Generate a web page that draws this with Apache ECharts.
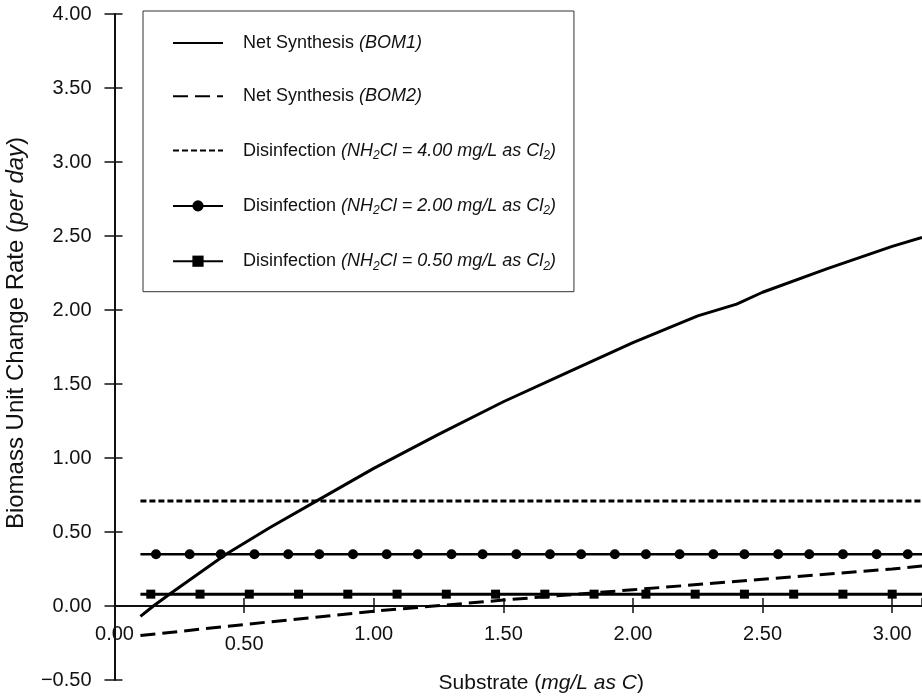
<!DOCTYPE html>
<html><head><meta charset="utf-8">
<script src="https://cdn.jsdelivr.net/npm/echarts@6/dist/echarts.min.js"></script>
<style>html,body{margin:0;padding:0;background:#fff}#c{width:922px;height:697px}</style>
</head><body><div id="c"></div>
<script>
// ---- data ----
const xTickValues = [0, 0.5, 1, 1.5, 2, 2.5, 3];
const yTickValues = [-0.5, 0, 0.5, 1, 1.5, 2, 2.5, 3, 3.5, 4];

const bom1X = [0.10, 0.15, 0.22, 0.43, 0.60, 0.78, 1.00, 1.25, 1.50, 1.75, 2.00, 2.25, 2.40, 2.50, 2.75, 3.00, 3.115];
const bom1Y = [-0.07, 0.00, 0.09, 0.35, 0.53, 0.71, 0.93, 1.16, 1.38, 1.58, 1.78, 1.96, 2.04, 2.12, 2.28, 2.43, 2.49];

const bom2X = [0.10, 0.50, 1.00, 1.50, 2.00, 2.50, 3.00, 3.115];
const bom2Y = [-0.20, -0.125, -0.035, 0.04, 0.11, 0.18, 0.25, 0.27];

const dis400Y = 0.71;
const dis200Y = 0.35;
const dis050Y = 0.08;
const disLineStartX = 0.10;
const disLineEndX = 3.115;
const dis200MarkerX = [0.16, 0.29, 0.41, 0.54, 0.67, 0.79, 0.92, 1.05, 1.17, 1.30, 1.42, 1.55, 1.68, 1.80, 1.93, 2.05, 2.18, 2.31, 2.43, 2.56, 2.68, 2.81, 2.94, 3.06];
const dis050MarkerX = [0.14, 0.33, 0.52, 0.71, 0.90, 1.09, 1.28, 1.47, 1.66, 1.85, 2.05, 2.24, 2.43, 2.62, 2.81, 3.00];

const seriesNames = [
  'Net Synthesis (BOM1)',
  'Net Synthesis (BOM2)',
  'Disinfection (NH2Cl = 4.00 mg/L as Cl2)',
  'Disinfection (NH2Cl = 2.00 mg/L as Cl2)',
  'Disinfection (NH2Cl = 0.50 mg/L as Cl2)'
];
const legendRich = [
  'Net Synthesis {i|(BOM1)}',
  'Net Synthesis {i|(BOM2)}',
  'Disinfection {i|(NH}{s|2}{i|Cl = 4.00 mg/L as Cl}{s|2}{i|)}',
  'Disinfection {i|(NH}{s|2}{i|Cl = 2.00 mg/L as Cl}{s|2}{i|)}',
  'Disinfection {i|(NH}{s|2}{i|Cl = 0.50 mg/L as Cl}{s|2}{i|)}'
];

// ---- chart ----
const FONT = "'Liberation Sans', Arial, Helvetica, sans-serif";
const INK = '#111';
const zip = (xs, ys) => xs.map((x, i) => [x, ys[i]]);
const hLine = (y, markers) => [[disLineStartX, y]].concat((markers || []).map(x => [x, y])).concat([[disLineEndX, y]]);

const chart = echarts.init(document.getElementById('c'), null, {renderer: 'canvas'});

const fmtTick = v => (v < 0 ? '\u2212' + Math.abs(v).toFixed(2) : v.toFixed(2));

const X_MIN = 0, X_MAX = 3.115, Y_MIN = -0.5, Y_MAX = 4;
const G_LEFT = 114.5, G_TOP = 14, G_BOTTOM = 17, H = 697;
// bottom of the helper grid sits on the y = 0 line of the main grid
const zeroY = G_TOP + (H - G_TOP - G_BOTTOM) * (Y_MAX - 0) / (Y_MAX - Y_MIN);

function endAwareSize(size, count) {
  return function (v, p) { return (p.dataIndex === 0 || p.dataIndex === count - 1) ? 0 : size; };
}

const d200 = hLine(dis200Y, dis200MarkerX);
const d050 = hLine(dis050Y, dis050MarkerX);
const noSym = {opacity: 0};
const hidden = {axisLine: {show: false}, axisTick: {show: false}, axisLabel: {show: false}, splitLine: {show: false}};

chart.setOption({
  animation: false,
  backgroundColor: '#fff',
  textStyle: {fontFamily: FONT},
  grid: [
    {left: G_LEFT, right: 0, top: G_TOP, bottom: G_BOTTOM, containLabel: false, outerBoundsMode: 'none'},
    {left: G_LEFT, right: 0, top: G_TOP, bottom: H - zeroY, containLabel: false, outerBoundsMode: 'none'}
  ],
  xAxis: [
    Object.assign({type: 'value', gridIndex: 0, min: X_MIN, max: X_MAX, interval: 0.5, show: true}, hidden),
    {
      type: 'value', gridIndex: 1, min: X_MIN, max: X_MAX, interval: 0.5, position: 'bottom',
      splitLine: {show: false},
      axisLine: {show: true, onZero: false, lineStyle: {color: INK, width: 2}},
      axisTick: {show: true, inside: false, length: 7, lineStyle: {color: INK, width: 1.5}},
      axisLabel: {
        show: true, margin: 18, fontSize: 20, color: INK, fontFamily: FONT,
        showMaxLabel: false,
        formatter: v => (Math.abs(v - 0.5) < 1e-9 ? '{low|' + fmtTick(v) + '}' : fmtTick(v)),
        rich: {low: {fontSize: 20, color: INK, fontFamily: FONT, padding: [10, 0, 0, 0]}}
      },
      name: 'Substrate ({i|mg/L as C})',
      nameLocation: 'middle',
      nameGap: 67,
      nameTextStyle: {
        fontSize: 21, color: INK, fontFamily: FONT, padding: [0, 0, 0, 46],
        rich: {i: {fontStyle: 'italic', fontSize: 21, color: INK, fontFamily: FONT}}
      }
    },
    {
      type: 'value', gridIndex: 1, min: X_MIN, max: X_MAX, interval: 0.5, position: 'bottom',
      splitLine: {show: false},
      axisLine: {show: false, onZero: false},
      axisTick: {show: true, inside: true, length: 8, lineStyle: {color: INK, width: 1.5}},
      axisLabel: {show: false}
    }
  ],
  yAxis: [
    {
      type: 'value', gridIndex: 0, min: Y_MIN, max: Y_MAX, interval: 0.5, position: 'left',
      splitLine: {show: false},
      axisLine: {show: true, onZero: false, lineStyle: {color: INK, width: 2}},
      axisTick: {show: true, inside: false, length: 10, lineStyle: {color: INK, width: 1.5}},
      axisLabel: {show: true, margin: 23, fontSize: 20, color: INK, fontFamily: FONT, formatter: fmtTick},
      name: 'Biomass Unit Change Rate ({i|per day})',
      nameLocation: 'middle',
      nameRotate: 90,
      nameGap: 86,
      nameTextStyle: {
        fontSize: 24, color: INK, fontFamily: FONT, padding: [0, 0, 0, 28],
        rich: {i: {fontStyle: 'italic', fontSize: 24, color: INK, fontFamily: FONT}}
      }
    },
    {
      type: 'value', gridIndex: 0, min: Y_MIN, max: Y_MAX, interval: 0.5, position: 'left',
      splitLine: {show: false},
      axisLine: {show: false, onZero: false},
      axisTick: {show: true, inside: true, length: 8, lineStyle: {color: INK, width: 1.5}},
      axisLabel: {show: false}
    },
    Object.assign({type: 'value', gridIndex: 1, min: 0, max: 1, show: true}, hidden)
  ],
  legend: {
    show: true,
    orient: 'vertical',
    left: 143, top: 11,
    padding: [22, 18, 19.5, 29],
    itemGap: 33.3,
    itemWidth: 50,
    itemHeight: 14,
    borderColor: '#333',
    borderWidth: 1,
    backgroundColor: '#fff',
    data: [
      {name: seriesNames[0], itemStyle: noSym},
      {name: seriesNames[1], itemStyle: noSym},
      {name: seriesNames[2], itemStyle: noSym},
      {name: seriesNames[3]},
      {name: seriesNames[4]}
    ],
    formatter: name => legendRich[seriesNames.indexOf(name)],
    textStyle: {
      fontSize: 18, color: INK, fontFamily: FONT, lineHeight: 20,
      padding: [0, 0, 0, 15],
      rich: {
        i: {fontStyle: 'italic', fontSize: 18, color: INK, fontFamily: FONT, lineHeight: 20},
        s: {fontStyle: 'italic', fontSize: 12, color: INK, fontFamily: FONT, lineHeight: 20, padding: [10, 0, 0, 0]}
      }
    }
  },
  series: [
    {
      name: seriesNames[0], type: 'line', xAxisIndex: 0, yAxisIndex: 0,
      data: zip(bom1X, bom1Y), showSymbol: false, symbol: 'none',
      lineStyle: {color: '#000', width: 3, type: 'solid'}, itemStyle: {color: '#000'}, z: 5
    },
    {
      name: seriesNames[1], type: 'line', xAxisIndex: 0, yAxisIndex: 0,
      data: zip(bom2X, bom2Y), showSymbol: false, symbol: 'none',
      lineStyle: {color: '#000', width: 3, type: [15, 7]}, itemStyle: {color: '#000'}, z: 5
    },
    {
      name: seriesNames[2], type: 'line', xAxisIndex: 0, yAxisIndex: 0,
      data: hLine(dis400Y, []), showSymbol: false, symbol: 'none',
      lineStyle: {color: '#000', width: 3, type: [6, 3]}, itemStyle: {color: '#000'}, z: 4
    },
    {
      name: seriesNames[3], type: 'line', xAxisIndex: 0, yAxisIndex: 0,
      data: d200, showSymbol: true, showAllSymbol: true, symbol: 'circle',
      symbolSize: endAwareSize(10, d200.length),
      lineStyle: {color: '#000', width: 2.5}, itemStyle: {color: '#000'}, z: 4
    },
    {
      name: seriesNames[4], type: 'line', xAxisIndex: 0, yAxisIndex: 0,
      data: d050, showSymbol: true, showAllSymbol: true, symbol: 'rect',
      symbolSize: endAwareSize(9, d050.length),
      lineStyle: {color: '#000', width: 3}, itemStyle: {color: '#000'}, z: 4
    }
  ]
});
</script>
</body></html>
